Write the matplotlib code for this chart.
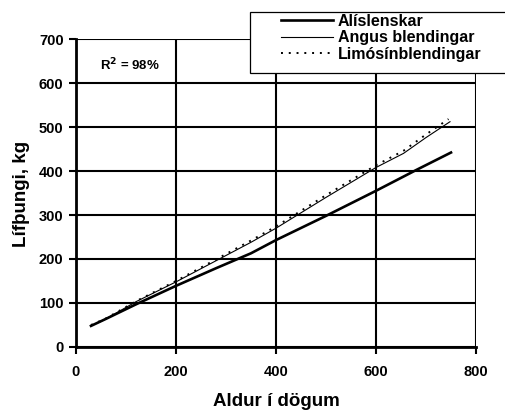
import numpy as np
import matplotlib.pyplot as plt
from matplotlib.patches import Rectangle

plt.rcParams['font.family'] = ['Liberation Sans', 'DejaVu Sans']

W, H = 505, 411

# aldur (dagar) og lífþungi (kg) lesið af myndinni
ali_x = [30, 60, 120, 200, 280, 350, 400, 500, 600, 680, 750]
ali_y = [48, 64, 97, 139, 179, 213, 243, 298, 355, 402, 442]

ang_x = [30, 60, 120, 200, 280, 350, 400, 500, 600, 655, 700, 748]
ang_y = [48, 64, 103, 148, 196, 238, 270, 340, 408, 440, 476, 512]

lim_x = [30, 60, 120, 200, 280, 350, 400, 500, 600, 655, 700, 745]
lim_y = [50, 65, 104, 150, 199, 242, 274, 345, 413, 446, 483, 518]

fig = plt.figure(figsize=(W / 100, H / 100), dpi=100)
ax = fig.add_axes([76 / W, 1 - 347 / H, 400 / W, 308 / H])

ax.plot(ali_x, ali_y, color='black', lw=1.9, label='Alíslenskar', zorder=3)
ax.plot(ang_x, ang_y, color='black', lw=0.8, label='Angus blendingar', zorder=3)
ax.plot(lim_x, lim_y, color='black', lw=1.4, ls=(0, (1, 3)),
        label='Limósínblendingar', zorder=3)

ax.set_xlim(0, 800)
ax.set_ylim(0, 700)
ax.set_xticks([0, 200, 400, 600, 800])
ax.set_yticks(range(0, 701, 100))
ax.grid(True, color='black', lw=1.5)
for s in ['top', 'right']:
    ax.spines[s].set_visible(False)
for s in ['left', 'bottom']:
    ax.spines[s].set_linewidth(2)
ax.tick_params(direction='out', length=5, width=1.5, labelsize=10.5)
ax.tick_params(axis='y', pad=4)
ax.tick_params(axis='x', pad=8)
for lab in ax.get_xticklabels() + ax.get_yticklabels():
    lab.set_fontweight('bold')

fig.text(276 / W, 1 - 401 / H, 'Aldur í dögum', fontsize=13.5,
         fontweight='bold', ha='center', va='center')
fig.text(22 / W, 1 - 194 / H, 'Lífþungi, kg', fontsize=13.5,
         fontweight='bold', ha='center', va='center', rotation=90)

fig.text(100 / W, 1 - 65 / H, 'R$^\\mathbf{2}$ = 98%', fontsize=9.5,
         fontweight='bold', va='center')

# legend box runs off the right edge, as in the original
box = Rectangle((250 / W, 1 - 73 / H), 270 / W, 61 / H,
                transform=fig.transFigure, facecolor='white',
                edgecolor='black', lw=0.9, zorder=5)
fig.patches.append(box)
leg = fig.legend(loc='upper left', bbox_to_anchor=(281 / W, 1 - 14 / H),
                 frameon=False, prop={'weight': 'bold', 'size': 11.5},
                 handlelength=3.25, borderpad=0, labelspacing=0.08,
                 handletextpad=0.3, borderaxespad=0)
leg.set_zorder(6)

fig.savefig('out.png', dpi=100)
